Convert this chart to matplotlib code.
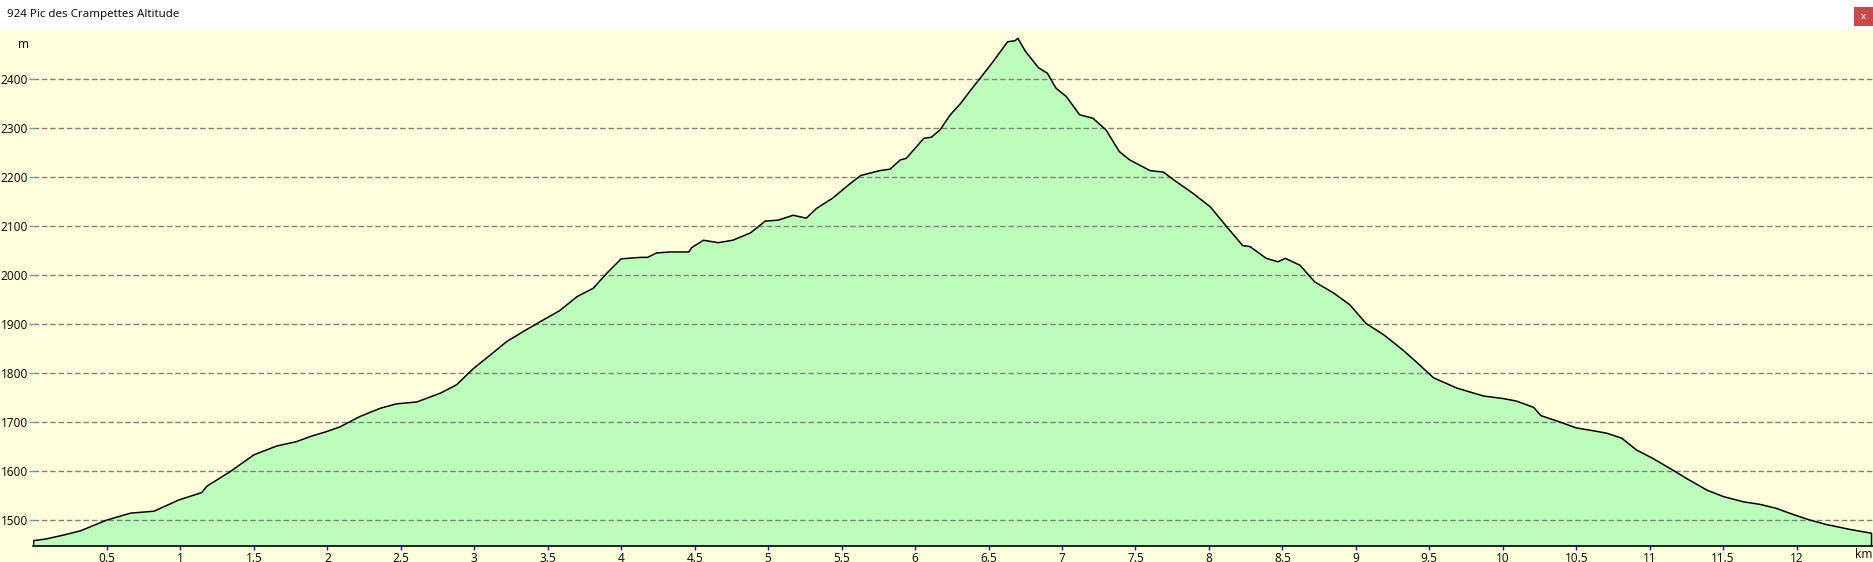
import matplotlib
matplotlib.use("Agg")
import matplotlib.pyplot as plt
from matplotlib.patches import Rectangle

# Profil altimétrique (km, m)
dist_km = [0.00, 0.08, 0.20, 0.32, 0.50, 0.66, 0.82, 0.99, 1.145, 1.18, 1.34, 1.50,
           1.655, 1.79, 1.89, 1.99, 2.086, 2.22, 2.36, 2.47, 2.61, 2.77, 2.88, 2.99,
           3.11, 3.22, 3.33, 3.45, 3.58, 3.70, 3.81, 3.90, 4.00, 4.13, 4.18, 4.24,
           4.33, 4.46, 4.48, 4.56, 4.66, 4.76, 4.88, 4.98, 5.07, 5.17, 5.26, 5.33,
           5.44, 5.56, 5.63, 5.76, 5.83, 5.90, 5.94, 6.06, 6.11, 6.17, 6.24, 6.31,
           6.37, 6.46, 6.53, 6.63, 6.68, 6.70, 6.75, 6.84, 6.90, 6.96, 7.03, 7.12,
           7.21, 7.30, 7.39, 7.46, 7.60, 7.69, 7.78, 7.89, 8.01, 8.12, 8.23, 8.28,
           8.39, 8.47, 8.52, 8.62, 8.72, 8.85, 8.96, 9.07, 9.19, 9.32, 9.41, 9.53,
           9.69, 9.87, 10.00, 10.09, 10.21, 10.26, 10.37, 10.50, 10.62, 10.71, 10.81,
           10.91, 11.02, 11.14, 11.25, 11.39, 11.50, 11.64, 11.75, 11.86, 11.97,
           12.09, 12.20, 12.36, 12.51]
alt_m = [1458, 1461, 1469, 1478, 1500, 1514, 1518, 1541, 1556, 1569, 1599, 1633,
         1651, 1660, 1671, 1680, 1690, 1711, 1728, 1737, 1741, 1759, 1776, 1808,
         1837, 1864, 1884, 1905, 1927, 1956, 1973, 2003, 2033, 2036, 2036, 2045,
         2047, 2047, 2056, 2071, 2066, 2071, 2086, 2110, 2112, 2122, 2116, 2136,
         2157, 2187, 2203, 2213, 2216, 2235, 2238, 2279, 2281, 2296, 2327, 2350,
         2374, 2408, 2435, 2476, 2478, 2483, 2457, 2423, 2412, 2381, 2364, 2327,
         2320, 2296, 2252, 2235, 2213, 2210, 2190, 2167, 2139, 2099, 2060, 2058,
         2034, 2027, 2034, 2020, 1986, 1963, 1939, 1901, 1878, 1847, 1823, 1790,
         1769, 1753, 1748, 1743, 1730, 1713, 1702, 1688, 1682, 1677, 1667,
         1643, 1626, 1605, 1585, 1561, 1548, 1537, 1532, 1524, 1512,
         1500, 1491, 1481, 1473]

y_ticks = [1500, 1600, 1700, 1800, 1900, 2000, 2100, 2200, 2300, 2400]
x_ticks = [0.5, 1, 1.5, 2, 2.5, 3, 3.5, 4, 4.5, 5, 5.5, 6, 6.5, 7, 7.5, 8, 8.5,
           9, 9.5, 10, 10.5, 11, 11.5, 12]
titre = "924 Pic des Crampettes Altitude"

y_min, y_max = 1447, 2500
jaune = '#ffffdc'
vert = '#bbffbb'

W, H = 1874, 562
fig = plt.figure(figsize=(W / 100, H / 100), dpi=100, facecolor=jaune)
plt.rcParams['font.family'] = ['Noto Sans', 'DejaVu Sans']

# barre de titre blanche
fig.patches.append(Rectangle((0, 1 - 30 / H), 1, 30 / H, transform=fig.transFigure,
                             facecolor='white', edgecolor='none', zorder=0))
fig.text(7 / W, 1 - 15 / H, titre, fontsize=8.3, va='center', ha='left', color='#111111')
fig.patches.append(Rectangle((1854 / W, 1 - 26 / H), 19 / W, 19 / H, transform=fig.transFigure,
                             facecolor='#c84b4b', edgecolor='none', zorder=1))
fig.text(1863.5 / W, 1 - 16.5 / H, 'x', fontsize=7, fontweight='bold', color='white',
         ha='center', va='center', zorder=2)

left, right, bottom, top = 33.5, 1873, 546, 30
ax = fig.add_axes([left / W, (H - bottom) / H, (right - left) / W, (bottom - top) / H])
ax.set_facecolor(jaune)

ax.fill_between(dist_km, alt_m, y_min, color=vert, lw=0, zorder=1)
xs = [dist_km[0]] + dist_km + [dist_km[-1]]
ys = [y_min] + alt_m + [y_min]
ax.plot(xs, ys, color='black', lw=1.1, zorder=3)

ax.set_xlim(0, 12.52)
ax.set_ylim(y_min, y_max)

ax.set_yticks(y_ticks)
ax.set_xticks(x_ticks)
ax.set_xticklabels([f'{t:g}' for t in x_ticks])
ax.yaxis.grid(True, linestyle=(0, (4, 2)), color='#808080', lw=1, zorder=2)
ax.set_axisbelow(False)

for s in ['top', 'right', 'left']:
    ax.spines[s].set_visible(False)
ax.spines['bottom'].set_color('black')
ax.spines['bottom'].set_linewidth(1.2)

ax.tick_params(axis='y', length=3, width=1, color='#33aaff', pad=1, labelsize=8.5,
               labelcolor='#111111')
ax.tick_params(axis='x', length=3, width=1, color='#0000ee', pad=1, labelsize=8.5,
               labelcolor='#111111')

fig.text(24 / W, 1 - 44 / H, 'm', fontsize=8.5, ha='center', va='center', color='#111111')
fig.text(1864 / W, 1 - 555 / H, 'km', fontsize=8.5, ha='center', va='center', color='#111111')

fig.savefig('out.png', dpi=100, facecolor=jaune)
